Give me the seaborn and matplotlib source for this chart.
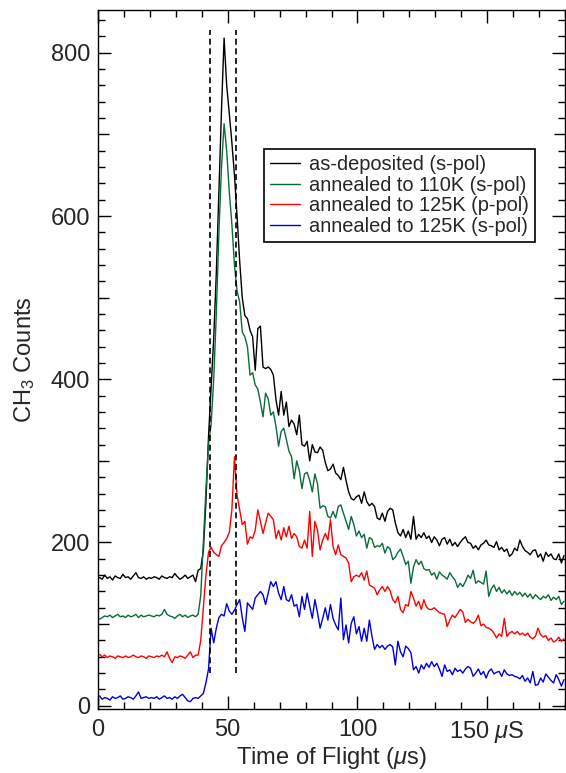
import numpy as np
import pandas as pd
import matplotlib
matplotlib.use("Agg")
import matplotlib.pyplot as plt
import seaborn as sns
from matplotlib.ticker import MultipleLocator, FixedLocator, FixedFormatter, FuncFormatter

# Time-of-flight channels (1 us bins)
tof_us = np.arange(0.6, 180.0, 1.0)

as_deposited = [
    157, 155, 160, 156, 158, 154, 159, 157, 156, 161,
    157, 158, 155, 159, 163, 157, 156, 158, 155, 157,
    156, 158, 157, 155, 159, 157, 156, 158, 157, 162,
    158, 155, 157, 160, 156, 158, 160, 152, 166, 168,
    190, 250, 330, 390, 450, 530, 630, 730, 818, 760,
    726, 690, 650, 600, 545, 500, 478, 474, 460, 452,
    411, 462, 465, 415, 413, 415, 412, 405, 375, 356,
    385, 356, 372, 342, 350, 345, 332, 356, 320, 318,
    324, 300, 320, 311, 310, 317, 313, 298, 288, 290,
    296, 285, 282, 277, 292, 276, 262, 254, 252, 256,
    258, 248, 262, 250, 245, 248, 244, 230, 228, 236,
    226, 238, 242, 240, 224, 212, 208, 216, 206, 214,
    204, 232, 204, 210, 206, 212, 205, 208, 200, 207,
    203, 196, 204, 206, 198, 204, 196, 200, 195, 200,
    204, 207, 200, 199, 193, 196, 191, 197, 199, 203,
    197, 196, 194, 201, 191, 194, 189, 192, 183, 186,
    193, 190, 203, 195, 190, 188, 185, 190, 191, 182,
    186, 177, 188, 183, 186, 180, 179, 186, 175, 184,
]

annealed_110_s = [
    106, 108, 110, 109, 111, 108, 110, 112, 109, 110,
    108, 111, 109, 110, 112, 108, 111, 109, 110, 111,
    110, 109, 111, 110, 112, 118, 112, 110, 109, 107,
    110, 112, 109, 111, 108, 110, 111, 109, 112, 135,
    200, 265, 320, 345, 400, 480, 580, 660, 713, 680,
    630, 590, 540, 508, 495, 458, 452, 440, 405, 408,
    393, 388, 372, 354, 383, 376, 356, 360, 342, 318,
    336, 340, 326, 312, 305, 278, 300, 288, 266, 284,
    286, 276, 262, 284, 272, 242, 245, 244, 232, 230,
    238, 230, 244, 246, 236, 226, 216, 232, 222, 208,
    214, 206, 210, 193, 206, 204, 194, 196, 195, 199,
    187, 195, 192, 179, 182, 188, 192, 183, 173, 177,
    150, 170, 179, 173, 177, 168, 166, 167, 160, 163,
    155, 164, 160, 158, 155, 163, 158, 154, 145, 150,
    146, 152, 160, 156, 166, 150, 153, 151, 149, 165,
    134, 143, 148, 140, 145, 138, 142, 137, 141, 135,
    140, 136, 139, 134, 138, 133, 137, 131, 136, 133,
    130, 134, 132, 136, 129, 133, 130, 134, 124, 128,
]

annealed_125_p = [
    63, 60, 62, 59, 61, 60, 58, 61, 60, 59,
    61, 59, 60, 62, 60, 59, 61, 60, 58, 61,
    60, 59, 61, 60, 62, 60, 66, 58, 53, 60,
    59, 61, 60, 58, 62, 66, 59, 62, 62, 80,
    120, 160, 188, 194, 188, 185, 183, 196, 200, 205,
    212, 240, 305, 258, 240, 222, 226, 198, 207, 205,
    215, 240, 226, 211, 224, 236, 232, 228, 205, 215,
    203, 218, 207, 220, 205, 211, 207, 195, 193, 203,
    193, 238, 183, 226, 215, 191, 203, 211, 203, 228,
    195, 185, 197, 185, 183, 181, 175, 152, 158, 160,
    158, 163, 154, 165, 148, 146, 144, 136, 142, 146,
    140, 146, 141, 130, 126, 134, 118, 114, 124, 122,
    140, 132, 122, 128, 118, 130, 121, 118, 118, 120,
    117, 114, 113, 112, 97, 105, 111, 108, 113, 118,
    115, 102, 106, 103, 101, 104, 111, 98, 100, 96,
    95, 93, 89, 83, 88, 85, 107, 85, 89, 91,
    88, 91, 87, 89, 86, 89, 84, 82, 85, 95,
    87, 84, 86, 80, 83, 78, 80, 84, 79, 82,
]

annealed_125_s = [
    12, 8, 10, 9, 7, 11, 9, 10, 12, 8,
    9, 11, 10, 8, 12, 17, 9, 10, 11, 9,
    10, 9, 11, 8, 10, 12, 9, 10, 8, 11,
    9, 12, 14, 10, 6, 5, 9, 10, 9, 12,
    15, 28, 45, 95, 77, 95, 108, 112, 110, 125,
    116, 112, 117, 124, 130, 108, 91, 126, 122, 118,
    132, 136, 140, 136, 124, 138, 152, 146, 152, 138,
    130, 146, 130, 128, 136, 122, 124, 109, 134, 118,
    138, 122, 107, 130, 114, 95, 107, 120, 105, 124,
    107, 99, 93, 132, 81, 99, 77, 101, 109, 88,
    97, 79, 95, 79, 105, 85, 69, 75, 71, 74,
    69, 73, 75, 72, 50, 79, 66, 60, 73, 70,
    65, 44, 48, 40, 50, 45, 52, 47, 54, 48,
    52, 45, 36, 50, 42, 44, 38, 46, 42, 44,
    40, 45, 48, 46, 36, 40, 45, 38, 42, 34,
    42, 45, 39, 41, 42, 36, 44, 39, 37, 38,
    36, 35, 33, 37, 30, 34, 28, 42, 25, 26,
    34, 29, 39, 35, 31, 28, 38, 32, 24, 32,
]

series_labels = [
    "as-deposited (s-pol)",
    "annealed to 110K (s-pol)",
    "annealed to 125K (p-pol)",
    "annealed to 125K (s-pol)",
]
series_colors = ["#000000", "#0b6b38", "#ff0000", "#0000dd"]

# Integration gate markers (us) and their vertical extent (counts)
gate_times = [43.2, 53.2]
gate_range = [40, 828]

x_ticks = [0, 50, 100, 150]
x_tick_labels = ["0", "50", "100", r"150 $\mu$S"]

frames = []
for label, values in zip(series_labels,
                         [as_deposited, annealed_110_s, annealed_125_p, annealed_125_s]):
    frames.append(pd.DataFrame({"tof": tof_us, "counts": values, "sample": label}))
df = pd.concat(frames, ignore_index=True)

sns.set_theme(style="ticks")
plt.rcParams["font.family"] = ["Liberation Sans", "DejaVu Sans"]
plt.rcParams["mathtext.fontset"] = "custom"
plt.rcParams["mathtext.rm"] = "Liberation Sans"
plt.rcParams["mathtext.it"] = "Liberation Sans:italic"

fig = plt.figure(figsize=(5.66, 7.73), dpi=100)
ax = fig.add_axes([98 / 566, 64 / 773, 467 / 566, 699.5 / 773])

sns.lineplot(data=df, x="tof", y="counts", hue="sample",
             hue_order=series_labels, palette=series_colors,
             linewidth=1.0, ax=ax, legend=False, sort=False)

for gt in gate_times:
    ax.vlines(gt, gate_range[0], gate_range[1], colors="black",
              linewidth=1.2, linestyles=(0, (3.6, 2.2)))

ax.set_xlim(0, 180)
ax.set_ylim(-4, 853)

ax.xaxis.set_major_locator(FixedLocator(x_ticks))
ax.xaxis.set_major_formatter(FixedFormatter(x_tick_labels))
ax.xaxis.set_minor_locator(MultipleLocator(10))
ax.yaxis.set_major_locator(MultipleLocator(100))
ax.yaxis.set_major_formatter(FuncFormatter(lambda v, p: f"{v:.0f}" if round(v) % 200 == 0 else ""))
ax.yaxis.set_minor_locator(MultipleLocator(20))

ax.tick_params(which="both", direction="in", top=True, right=True,
               color="black", width=1.0)
ax.tick_params(which="major", length=9.2)
ax.tick_params(which="minor", length=5.2)
ax.tick_params(axis="x", which="major", labelsize=17, pad=7)
ax.tick_params(axis="y", which="major", labelsize=17, pad=5.5)

# medium-length ticks at the odd hundreds
for loc, tick in zip(ax.get_yticks(), ax.yaxis.get_major_ticks()):
    if round(loc) % 200 != 0:
        tick.tick1line.set_markersize(7.6)
        tick.tick2line.set_markersize(7.6)

for side in ["left", "right", "top", "bottom"]:
    ax.spines[side].set_visible(True)
    ax.spines[side].set_color("black")
    ax.spines[side].set_linewidth(1.0)

ax.set_xlabel(r"Time of Flight ($\mu$s)", fontsize=17, labelpad=0)
ax.set_ylabel(r"CH$_3$ Counts", fontsize=17, labelpad=10)

handles = [plt.Line2D([], [], color=c, linewidth=1.0) for c in series_colors]
leg = ax.legend(handles, series_labels, loc="upper left",
                bbox_to_anchor=((264 - 98) / 467, (709 - 149) / 699.5),
                borderaxespad=0, fontsize=14.4, frameon=True, fancybox=False,
                handlelength=1.5, handletextpad=0.45, labelspacing=0.08,
                borderpad=0.3)
leg.get_frame().set_edgecolor("black")
leg.get_frame().set_linewidth(1.2)
leg.get_frame().set_alpha(1)

fig.savefig("out.png", dpi=100)
